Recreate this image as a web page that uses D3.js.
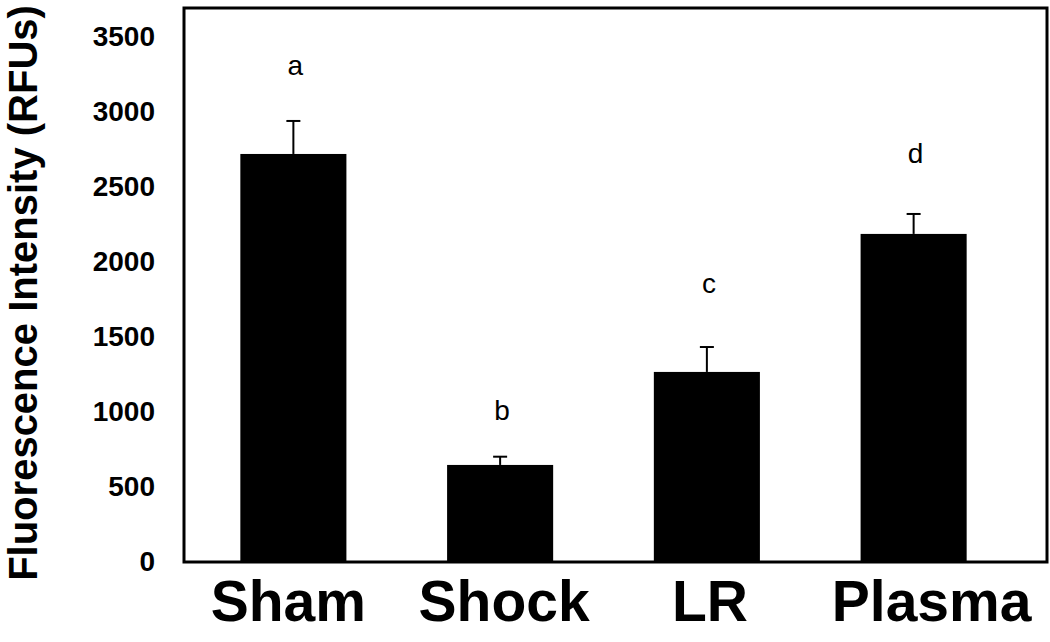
<!DOCTYPE html>
<html>
<head>
<meta charset="utf-8">
<script src="https://cdn.jsdelivr.net/npm/d3@7"></script>
<style>
  body { margin: 0; background: #fff; }
  text { font-family: "Liberation Sans", Arial, sans-serif; }
</style>
</head>
<body>
<div id="chart"></div>
<script>
// data
var groups = ["Sham", "Shock", "LR", "Plasma"];
var means = [2720, 647, 1267, 2187];
var errors = [220, 55, 166, 133];
var letters = ["a", "b", "c", "d"];
var letterAt = [3247, 947, 1793, 2660];   // height of the significance letters, in RFUs
var yTicks = [0, 500, 1000, 1500, 2000, 2500, 3000, 3500];
var yMax = 3693;

var width = 1050, height = 642;
var frame = { left: 184, right: 1047, top: 8, bottom: 562 };

var svg = d3.select("#chart").append("svg")
    .attr("width", width)
    .attr("height", height);

var x = d3.scaleBand()
    .domain(groups)
    .range([190, 1017])
    .paddingInner(0.487)
    .paddingOuter(0.2435);

var y = d3.scaleLinear()
    .domain([0, yMax])
    .range([frame.bottom, frame.top]);

// bars
svg.selectAll(".bar")
    .data(groups)
    .enter()
    .append("rect")
    .attr("class", "bar")
    .attr("x", function (d) { return x(d); })
    .attr("width", x.bandwidth())
    .attr("y", function (d, i) { return y(means[i]); })
    .attr("height", function (d, i) { return y(0) - y(means[i]); })
    .attr("fill", "#000");

// error bars (upper only)
var err = svg.selectAll(".err")
    .data(groups)
    .enter()
    .append("g")
    .attr("class", "err")
    .attr("stroke", "#000")
    .attr("stroke-width", 2);
err.append("line")
    .attr("x1", function (d) { return x(d) + x.bandwidth() / 2; })
    .attr("x2", function (d) { return x(d) + x.bandwidth() / 2; })
    .attr("y1", function (d, i) { return y(means[i]); })
    .attr("y2", function (d, i) { return y(means[i] + errors[i]); });
err.append("line")
    .attr("x1", function (d) { return x(d) + x.bandwidth() / 2 - 7; })
    .attr("x2", function (d) { return x(d) + x.bandwidth() / 2 + 7; })
    .attr("y1", function (d, i) { return y(means[i] + errors[i]); })
    .attr("y2", function (d, i) { return y(means[i] + errors[i]); });

// significance letters
svg.selectAll(".letter")
    .data(groups)
    .enter()
    .append("text")
    .attr("class", "letter")
    .attr("x", function (d) { return x(d) + x.bandwidth() / 2 + 2; })
    .attr("y", function (d, i) { return y(letterAt[i]); })
    .attr("text-anchor", "middle")
    .attr("font-size", 28)
    .text(function (d, i) { return letters[i]; });

// frame
svg.append("rect")
    .attr("x", frame.left)
    .attr("y", frame.top)
    .attr("width", frame.right - frame.left)
    .attr("height", frame.bottom - frame.top)
    .attr("fill", "none")
    .attr("stroke", "#000")
    .attr("stroke-width", 3);

// y axis, labels only
var yAxis = svg.append("g")
    .attr("transform", "translate(" + frame.left + ",0)")
    .call(d3.axisLeft(y).tickValues(yTicks).tickFormat(d3.format("d")).tickSize(0).tickPadding(29));
yAxis.select(".domain").remove();
yAxis.selectAll("text")
    .attr("font-size", 28)
    .attr("font-weight", "bold")
    .attr("font-family", "Liberation Sans, Arial, sans-serif")
    .attr("fill", "#000");

// x axis, labels only
var xAxis = svg.append("g")
    .attr("transform", "translate(0," + frame.bottom + ")")
    .call(d3.axisBottom(x).tickSize(0).tickPadding(0));
xAxis.select(".domain").remove();
xAxis.selectAll("text")
    .attr("dy", null)
    .attr("y", 59)
    .attr("dx", function (d) { return d === "Plasma" ? 18 : (d === "Sham" ? -5 : (d === "Shock" ? 4 : 3)); })
    .attr("font-size", 57)
    .attr("font-weight", "bold")
    .attr("font-family", "Liberation Sans, Arial, sans-serif")
    .attr("fill", "#000");

// y title
svg.append("text")
    .attr("transform", "translate(37," + 293 + ") rotate(-90)")
    .attr("text-anchor", "middle")
    .attr("font-size", 40)
    .attr("font-weight", "bold")
    .text("Fluorescence Intensity (RFUs)");
</script>
</body>
</html>
